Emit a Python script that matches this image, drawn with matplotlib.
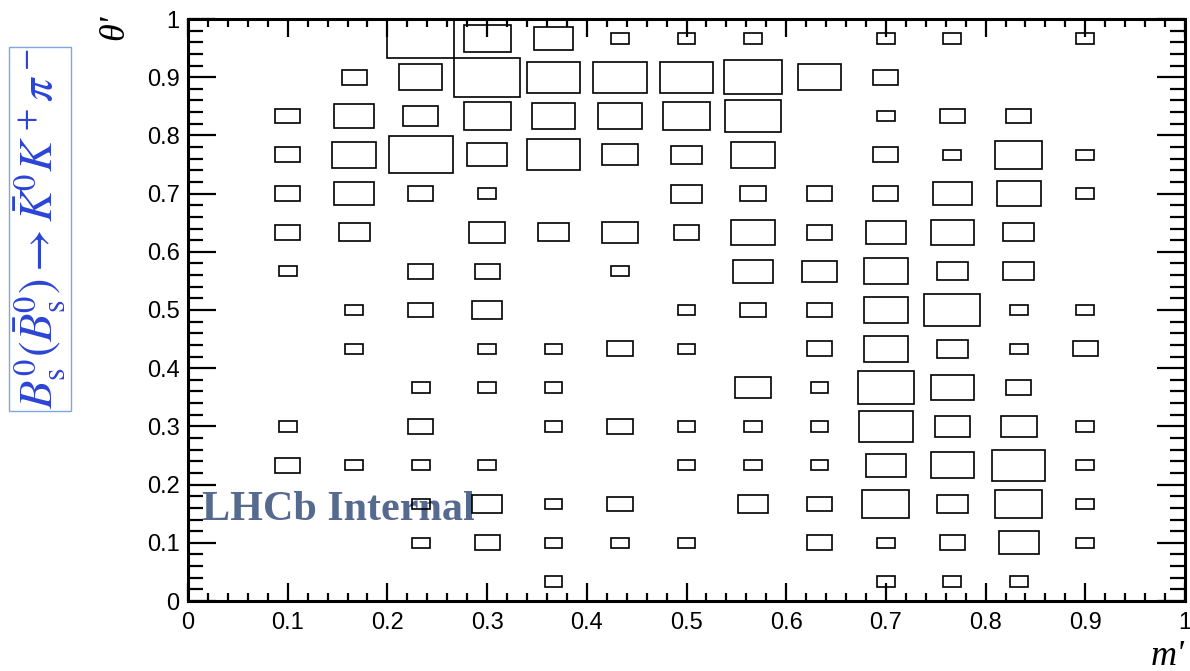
import numpy as np
import matplotlib
matplotlib.use("Agg")
import matplotlib.pyplot as plt
from matplotlib.patches import Rectangle
from matplotlib.ticker import MultipleLocator

plt.rcParams['font.family'] = ['Liberation Sans', 'DejaVu Sans']
plt.rcParams['mathtext.fontset'] = 'stix'

# binning of the square Dalitz plot
n_bins = 15
m_edges = np.linspace(0, 1, n_bins + 1)
theta_edges = np.linspace(0, 1, n_bins + 1)

# entries per (m', theta') bin, rows from theta'=0 upwards, columns along m'
counts = [
    [0, 0, 0, 0, 0, 1, 0, 0, 0, 0, 1, 1, 1, 0, 0],
    [0, 0, 0, 1, 2, 1, 1, 1, 0, 2, 1, 2, 5, 1, 0],
    [0, 0, 0, 1, 3, 1, 2, 0, 3, 2, 7, 3, 7, 1, 0],
    [0, 2, 1, 1, 1, 0, 0, 1, 1, 1, 5, 6, 9, 1, 0],
    [0, 1, 0, 2, 0, 1, 2, 1, 1, 1, 9, 4, 4, 1, 0],
    [0, 0, 0, 1, 1, 1, 0, 0, 4, 1, 10, 6, 2, 0, 0],
    [0, 0, 1, 0, 1, 1, 2, 1, 0, 2, 6, 3, 1, 2, 0],
    [0, 0, 1, 2, 3, 0, 0, 1, 2, 2, 6, 10, 1, 1, 0],
    [0, 1, 0, 2, 2, 0, 1, 0, 5, 4, 6, 3, 3, 0, 0],
    [0, 2, 3, 0, 4, 3, 4, 2, 6, 2, 5, 6, 3, 0, 0],
    [0, 2, 5, 2, 1, 0, 0, 3, 2, 2, 2, 5, 6, 1, 0],
    [0, 2, 6, 13, 5, 9, 4, 3, 6, 0, 2, 1, 7, 1, 0],
    [0, 2, 5, 4, 7, 6, 6, 7, 10, 0, 1, 2, 2, 0, 0],
    [0, 0, 2, 6, 14, 9, 9, 9, 11, 6, 2, 0, 0, 0, 0],
    [0, 0, 0, 14, 7, 5, 1, 1, 1, 0, 1, 1, 0, 1, 0],
]

decay_label = r"$B^0_\mathrm{s}(\bar{B}^0_\mathrm{s})\rightarrow\bar{K}^0K^+\pi^-$"

fig = plt.figure(figsize=(11.9, 6.71), dpi=100)
ax = fig.add_axes([188 / 1190, 1 - 601 / 671, 997 / 1190, 582 / 671])

# box histogram: box area proportional to bin content
h = np.array(counts, dtype=float)
zmax = h.max()
for j in range(n_bins):
    for i in range(n_bins):
        z = h[j, i]
        if z <= 0:
            continue
        frac = np.sqrt(z / zmax)
        w = (m_edges[i + 1] - m_edges[i]) * frac
        hh = (theta_edges[j + 1] - theta_edges[j]) * frac
        xc = 0.5 * (m_edges[i] + m_edges[i + 1])
        yc = 0.5 * (theta_edges[j] + theta_edges[j + 1])
        ax.add_patch(Rectangle((xc - w / 2, yc - hh / 2), w, hh, fill=False,
                               ec='black', lw=1.2, zorder=3))

ax.set_xlim(0, 1)
ax.set_ylim(0, 1)
for sp in ax.spines.values():
    sp.set_linewidth(2.2)

ax.xaxis.set_major_locator(MultipleLocator(0.1))
ax.xaxis.set_minor_locator(MultipleLocator(0.02))
ax.yaxis.set_major_locator(MultipleLocator(0.1))
ax.yaxis.set_minor_locator(MultipleLocator(0.02))
ax.xaxis.set_major_formatter(plt.FuncFormatter(lambda v, p: f"{v:g}"))
ax.yaxis.set_major_formatter(plt.FuncFormatter(lambda v, p: f"{v:g}"))
ax.tick_params(axis='x', which='major', direction='in', top=True, length=13,
               width=1.6, labelsize=17, pad=8)
ax.tick_params(axis='x', which='minor', direction='in', top=True, length=6,
               width=1.6)
ax.tick_params(axis='y', which='major', direction='in', right=True, length=20,
               width=1.6, labelsize=17, pad=6)
ax.tick_params(axis='y', which='minor', direction='in', right=True, length=11,
               width=1.6)

# axis titles at the far ends, ROOT style
title_font = ['Liberation Serif', 'DejaVu Serif']
fig.text(1185 / 1190, 1 - 665 / 671, "m'", ha='right', va='baseline',
         family=title_font, style='italic', fontsize=26)
fig.text(115 / 1190, 1 - 14 / 671, "θ'", ha='center', va='top',
         rotation=90, family=title_font, style='italic', fontsize=26)

ax.text(0.014, (601 - 520) / 582, "LHCb Internal", transform=ax.transAxes,
        family=title_font, fontweight='bold', fontsize=30.3,
        color='#566a8f', ha='left', va='baseline', zorder=2)

fig.text(40 / 1190, 1 - 229 / 671, decay_label, rotation=90, ha='center',
         va='center', fontsize=33.5, color='#2b44d6',
         bbox=dict(boxstyle='square,pad=0.05', fc='none', ec='#7fa6e3',
                   lw=1.0))

fig.savefig("out.png", dpi=100)
